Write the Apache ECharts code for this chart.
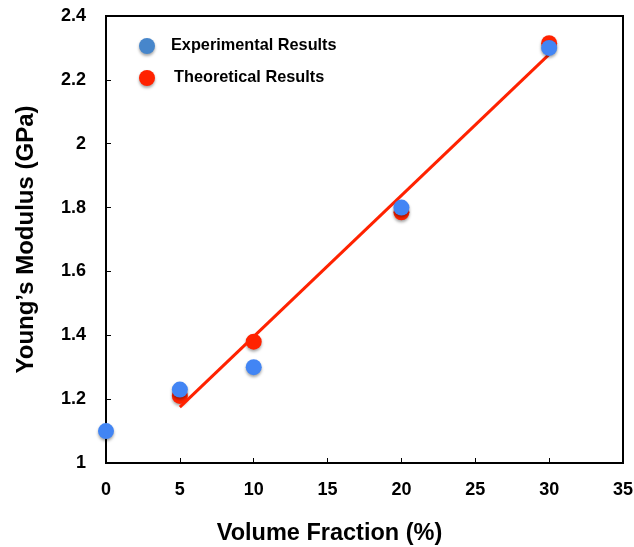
<!DOCTYPE html>
<html>
<head>
<meta charset="utf-8">
<script src="https://cdn.jsdelivr.net/npm/echarts@6/dist/echarts.min.js"></script>
<style>
  html, body { margin: 0; padding: 0; background: #fff; }
  #chart { width: 634px; height: 547px; }
</style>
</head>
<body>
<div id="chart"></div>
<script>
// Volume fraction (%) for each specimen
const expX = [0, 5, 10, 20, 30];
const expY = [1.10, 1.23, 1.30, 1.80, 2.30];
const theoX = [5, 10, 20, 30];
const theoY = [1.21, 1.38, 1.785, 2.315];
// Linear trend through the theoretical values
const fitX = [5, 30];
const fitY = [1.175, 2.28];

const xTicks = [0, 5, 10, 15, 20, 25, 30, 35];
const yTicks = [1, 1.2, 1.4, 1.6, 1.8, 2, 2.2, 2.4];

const pair = (xs, ys) => xs.map((x, i) => [x, ys[i]]);

const FONT = '"Liberation Sans", Arial, sans-serif';
const shadow = { shadowBlur: 3, shadowColor: 'rgba(0,0,0,0.35)', shadowOffsetY: 2 };

const chart = echarts.init(document.getElementById('chart'), null, { renderer: 'canvas' });
chart.setOption({
  animation: false,
  backgroundColor: '#fff',
  grid: {
    left: 106, right: 11, top: 16, bottom: 84,
    outerBoundsMode: 'none',
    show: true, borderColor: '#000', borderWidth: 2
  },
  legend: {
    orient: 'vertical',
    left: 134,
    top: 33,
    itemWidth: 16,
    itemHeight: 16,
    itemGap: 16,
    textStyle: { fontFamily: FONT, fontWeight: 'bold', fontSize: 16.3, color: '#000', padding: [0, 0, 0, 11] },
    data: [
      {
        name: 'Experimental Results', icon: 'circle',
        itemStyle: Object.assign({ color: '#4786cb' }, shadow)
      },
      {
        name: 'Theoretical Results', icon: 'circle',
        itemStyle: Object.assign({ color: '#ff2200' }, shadow),
        textStyle: { padding: [0, 0, 0, 14] }
      }
    ]
  },
  xAxis: {
    type: 'value',
    min: xTicks[0],
    max: xTicks[xTicks.length - 1],
    interval: 5,
    name: 'Volume Fraction (%)',
    nameLocation: 'middle',
    nameGap: 59,
    nameTextStyle: {
      fontFamily: FONT, fontWeight: 'bold', fontSize: 23.5, color: '#000',
      padding: [0, 70, 0, 0]
    },
    axisLine: { show: true, lineStyle: { color: '#000', width: 2 } },
    axisTick: { show: true, inside: true, length: 5, lineStyle: { color: '#000', width: 1 } },
    axisLabel: { fontFamily: FONT, fontWeight: 'bold', fontSize: 18, color: '#000', margin: 18 },
    splitLine: { show: false }
  },
  yAxis: {
    type: 'value',
    min: yTicks[0],
    max: yTicks[yTicks.length - 1],
    interval: 0.2,
    name: 'Young\u2019s Modulus (GPa)',
    nameLocation: 'middle',
    nameGap: 68,
    nameTextStyle: { fontFamily: FONT, fontWeight: 'bold', fontSize: 24, color: '#000' },
    axisLine: { show: true, lineStyle: { color: '#000', width: 2 } },
    axisTick: { show: true, inside: true, length: 5, lineStyle: { color: '#000', width: 1 } },
    axisLabel: {
      fontFamily: FONT, fontWeight: 'bold', fontSize: 18, color: '#000', margin: 20,
      padding: [4, 0, 0, 0],
      formatter: v => String(Math.round(v * 10) / 10)
    },
    splitLine: { show: false }
  },
  series: [
    {
      name: 'Theoretical Results',
      type: 'scatter',
      symbol: 'circle',
      symbolSize: 16,
      z: 2,
      itemStyle: Object.assign({ color: '#ff2200', opacity: 1 }, shadow),
      data: pair(theoX, theoY)
    },
    {
      name: 'fit',
      type: 'line',
      symbol: 'none',
      z: 3,
      lineStyle: { color: '#ff2200', width: 3 },
      data: pair(fitX, fitY)
    },
    {
      name: 'Experimental Results',
      type: 'scatter',
      symbol: 'circle',
      symbolSize: 16,
      z: 4,
      itemStyle: Object.assign({ color: '#4285f4', opacity: 1 }, shadow),
      data: pair(expX, expY)
    }
  ]
});
</script>
</body>
</html>
